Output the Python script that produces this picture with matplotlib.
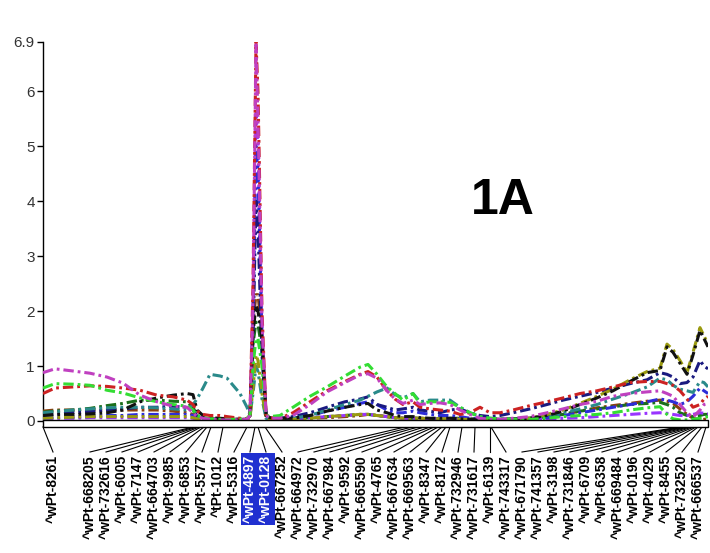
import matplotlib
matplotlib.use('Agg')
import matplotlib.pyplot as plt
from matplotlib.patches import Rectangle

plt.rcParams['font.family'] = ['Liberation Sans', 'DejaVu Sans']

# chromosome positions (cM) where LOD is sampled
pos = [0.0, 2.4, 6.0, 9.4, 12.8, 16.0, 19.4, 22.8, 26.0, 28.8,
       30.0, 30.8, 32.0, 33.4, 35.4, 36.8, 39.4, 40.8, 41.4, 42.0,
       42.6, 43.0, 43.8, 44.6, 45.4, 47.4, 50.0, 53.4, 56.8, 60.4,
       63.4, 65.0, 66.8, 68.8, 70.4, 72.0, 74.0, 75.4, 77.4, 79.4,
       81.4, 83.4, 85.4, 87.4, 89.4, 91.4, 94.0, 97.4, 100.8, 104.0,
       107.4, 110.8, 114.0, 117.4, 120.8, 123.4, 124.8, 126.0, 127.4, 128.8,
       130.0, 131.4, 132.2, 133.0]
chrom_len = 133.0

lod_violet = [0.88,0.95,0.91,0.87,0.80,0.69,0.47,0.35,0.27,0.25,
              0.15,0.08,0.05,0.03,0.02,0.02,0.02,0.03,0.10,2.20,
              6.85,5.50,1.80,0.10,0.05,0.05,0.10,0.30,0.53,0.70,
              0.84,0.86,0.78,0.55,0.40,0.32,0.38,0.30,0.32,0.33,
              0.30,0.20,0.12,0.05,0.03,0.03,0.05,0.08,0.15,0.22,
              0.30,0.36,0.45,0.50,0.53,0.55,0.50,0.45,0.30,0.15,
              0.07,0.20,0.30,0.32]
lod_green = [0.60,0.68,0.67,0.65,0.56,0.51,0.42,0.35,0.30,0.27,
             0.20,0.10,0.06,0.04,0.03,0.03,0.03,0.05,0.10,1.00,
             1.50,1.50,1.00,0.10,0.08,0.10,0.25,0.45,0.62,0.82,
             0.98,1.03,0.85,0.62,0.50,0.38,0.50,0.32,0.35,0.35,
             0.34,0.25,0.15,0.08,0.05,0.04,0.03,0.03,0.05,0.08,
             0.10,0.12,0.15,0.20,0.24,0.26,0.12,0.04,0.02,0.02,
             0.03,0.05,0.06,0.08]
lod_red = [0.50,0.60,0.62,0.64,0.63,0.60,0.56,0.47,0.44,0.38,
           0.30,0.18,0.12,0.10,0.10,0.08,0.05,0.04,0.10,2.50,
           6.90,6.00,2.00,0.12,0.06,0.05,0.15,0.35,0.55,0.72,
           0.85,0.90,0.80,0.55,0.40,0.30,0.35,0.25,0.22,0.20,
           0.18,0.12,0.15,0.25,0.15,0.15,0.20,0.28,0.35,0.42,
           0.50,0.55,0.62,0.70,0.72,0.72,0.68,0.65,0.55,0.40,
           0.25,0.30,0.40,0.45]
lod_teal = [0.15,0.17,0.20,0.22,0.24,0.25,0.25,0.24,0.22,0.20,
            0.30,0.40,0.60,0.85,0.82,0.78,0.50,0.25,0.10,0.50,
            1.00,0.90,0.40,0.05,0.03,0.03,0.05,0.10,0.20,0.30,
            0.38,0.45,0.53,0.60,0.48,0.42,0.50,0.35,0.38,0.38,
            0.38,0.25,0.15,0.08,0.05,0.04,0.04,0.05,0.10,0.15,
            0.22,0.30,0.40,0.50,0.62,0.78,0.75,0.65,0.58,0.55,
            0.52,0.72,0.70,0.62]
lod_black = [0.10,0.12,0.12,0.13,0.15,0.20,0.35,0.42,0.47,0.50,
             0.48,0.20,0.10,0.06,0.05,0.04,0.03,0.03,0.10,1.60,
             2.10,2.00,1.50,0.10,0.06,0.05,0.05,0.10,0.18,0.25,
             0.30,0.32,0.20,0.15,0.10,0.08,0.08,0.06,0.05,0.05,
             0.05,0.04,0.03,0.03,0.03,0.03,0.03,0.05,0.10,0.18,
             0.30,0.42,0.55,0.72,0.88,0.92,1.35,1.25,1.05,0.85,
             1.20,1.65,1.50,1.35]
lod_olive = [0.05,0.06,0.07,0.08,0.08,0.08,0.08,0.08,0.08,0.08,
             0.06,0.04,0.03,0.03,0.02,0.02,0.02,0.02,0.05,0.60,
             1.20,1.10,0.50,0.05,0.03,0.03,0.03,0.05,0.08,0.10,
             0.12,0.12,0.10,0.08,0.06,0.05,0.05,0.05,0.04,0.04,
             0.04,0.03,0.03,0.03,0.03,0.03,0.03,0.05,0.12,0.20,
             0.32,0.45,0.58,0.75,0.90,0.96,1.40,1.30,1.10,0.88,
             1.25,1.70,1.55,1.40]
lod_navy = [0.10,0.12,0.15,0.17,0.20,0.22,0.25,0.25,0.27,0.25,
            0.20,0.10,0.05,0.04,0.03,0.03,0.03,0.03,0.10,1.50,
            4.00,3.50,1.20,0.10,0.05,0.05,0.08,0.15,0.25,0.35,
            0.40,0.44,0.30,0.25,0.20,0.22,0.25,0.20,0.18,0.15,
            0.20,0.22,0.15,0.10,0.08,0.10,0.15,0.22,0.30,0.38,
            0.45,0.52,0.60,0.68,0.75,0.88,0.85,0.80,0.68,0.70,
            0.80,1.10,1.00,0.95]
lod_blue = [0.05,0.06,0.07,0.08,0.10,0.10,0.12,0.12,0.12,0.12,
            0.10,0.05,0.03,0.02,0.02,0.02,0.02,0.02,0.08,1.80,
            5.00,4.50,1.50,0.08,0.04,0.04,0.05,0.10,0.18,0.25,
            0.32,0.35,0.30,0.20,0.15,0.15,0.18,0.15,0.12,0.10,
            0.10,0.08,0.05,0.04,0.03,0.03,0.03,0.04,0.06,0.10,
            0.15,0.20,0.25,0.30,0.35,0.40,0.38,0.35,0.30,0.35,
            0.45,0.60,0.55,0.50]
lod_purple = [0.04,0.05,0.05,0.06,0.06,0.06,0.06,0.06,0.06,0.06,
              0.05,0.03,0.02,0.02,0.02,0.02,0.02,0.02,0.08,2.00,
              5.60,5.00,1.60,0.08,0.04,0.04,0.04,0.06,0.08,0.10,
              0.12,0.12,0.10,0.08,0.06,0.05,0.05,0.05,0.04,0.04,
              0.04,0.03,0.03,0.03,0.03,0.03,0.03,0.03,0.04,0.05,
              0.06,0.08,0.10,0.12,0.14,0.15,0.14,0.12,0.10,0.10,
              0.12,0.15,0.14,0.13]
lod_dkgreen = [0.16,0.18,0.20,0.23,0.28,0.32,0.38,0.38,0.36,0.35,
               0.25,0.10,0.06,0.04,0.03,0.03,0.03,0.03,0.10,1.40,
               1.80,1.75,1.30,0.10,0.05,0.04,0.04,0.06,0.08,0.10,
               0.12,0.12,0.10,0.08,0.06,0.05,0.05,0.05,0.04,0.04,
               0.05,0.05,0.04,0.03,0.03,0.03,0.04,0.05,0.08,0.12,
               0.18,0.22,0.26,0.30,0.32,0.34,0.30,0.25,0.15,0.10,
               0.08,0.10,0.12,0.12]
lod_brown = [0.18,0.20,0.20,0.20,0.20,0.20,0.20,0.20,0.18,0.15,
             0.12,0.08,0.05,0.04,0.03,0.03,0.03,0.03,0.10,1.80,
             2.30,2.30,1.60,0.10,0.05,0.04,0.04,0.05,0.06,0.08,
             0.10,0.12,0.10,0.08,0.06,0.05,0.05,0.05,0.04,0.04,
             0.04,0.03,0.03,0.03,0.03,0.03,0.04,0.05,0.08,0.12,
             0.18,0.24,0.28,0.32,0.36,0.38,0.36,0.32,0.22,0.12,
             0.05,0.02,0.03,0.04]

series = [lod_brown, lod_dkgreen, lod_purple, lod_blue, lod_navy, lod_teal,
          lod_olive, lod_black, lod_red, lod_green, lod_violet]
colors = ['#8b4010', '#1b6e1b', '#9933ff', '#2d2dd8', '#1a1a80', '#2a8a8a',
          '#9a9a10', '#111111', '#cc2222', '#33dd33', '#c040c0']

marker_names = ['wPt-8261', 'wPt-668205', 'wPt-732616', 'wPt-6005', 'wPt-7147',
                'wPt-664703', 'wPt-9985', 'wPt-6853', 'wPt-5577', 'tPt-1012',
                'wPt-5316', 'wPt-4897', 'wPt-0128', 'wPt-667252', 'wPt-664972',
                'wPt-732970', 'wPt-667984', 'wPt-9592', 'wPt-665590', 'wPt-4765',
                'wPt-667634', 'wPt-669563', 'wPt-8347', 'wPt-8172', 'wPt-732946',
                'wPt-731617', 'wPt-6139', 'wPt-743317', 'wPt-671790', 'wPt-741357',
                'wPt-3198', 'wPt-731846', 'wPt-6709', 'wPt-6358', 'wPt-669484',
                'wPt-0196', 'wPt-4029', 'wPt-8455', 'wPt-732520', 'wPt-666537']
marker_cM = [0.0, 30.0, 30.4, 30.8, 31.2, 31.6, 32.2, 32.8, 33.6, 36.0,
             40.8, 42.4, 43.0, 44.4, 72.4, 73.8, 75.0, 76.2, 77.4, 78.2,
             79.0, 79.8, 80.6, 81.4, 83.8, 86.4, 89.4, 89.6, 127.4, 127.8,
             128.2, 128.6, 129.0, 129.4, 129.8, 130.2, 130.6, 131.0, 131.8, 132.6]
highlighted = ['wPt-4897', 'wPt-0128']

yticks = [0, 1, 2, 3, 4, 5, 6, 6.9]
ytick_labels = ['0', '1', '2', '3', '4', '5', '6', '6.9']

W, H = 710, 553
fig = plt.figure(figsize=(W / 100, H / 100), dpi=100)
ax = fig.add_axes([43 / W, (H - 421) / H, 665 / W, 379 / H])
ax.set_xlim(0, chrom_len)
ax.set_ylim(0, 6.9)
for s in ['top', 'right', 'bottom']:
    ax.spines[s].set_visible(False)
ax.spines['left'].set_linewidth(1.0)
ax.spines['left'].set_bounds(0, 6.9)
ax.set_xticks([])
ax.set_yticks(yticks)
ax.set_yticklabels(ytick_labels, fontsize=11, color='#333333')
ax.tick_params(axis='y', length=4, width=1, pad=2)

for vals, c in zip(series, colors):
    ax.plot(pos, vals, color=c, lw=2.2, dashes=(3.4, 1.3, 0.9, 1.3), zorder=3)

tr = ax.get_xaxis_transform()
axh = 379.0
bar_top = 1 / axh
bar_bot = -6 / axh
ax.add_patch(Rectangle((0, bar_bot), chrom_len, bar_top - bar_bot, transform=tr,
                       fc='white', ec='black', lw=1.0, clip_on=False, zorder=6))

# label layout positions (evenly spread along the chromosome)
px_per_cM = 665 / chrom_len
label_cM = [10 / px_per_cM] + [(47 + 16.0 * k) / px_per_cM for k in range(len(marker_names) - 1)]

y_line_end = -31 / axh
y_text_top = -34 / axh
for name, m, lx in zip(marker_names, marker_cM, label_cM):
    ax.plot([m, lx], [bar_bot, y_line_end], transform=tr, color='black', lw=0.8,
            clip_on=False, zorder=5)
    kw = {}
    col = 'black'
    if name in highlighted:
        kw['bbox'] = dict(boxstyle='square,pad=0.12', fc='#2030d0', ec='none')
        col = 'white'
    ax.text(lx, y_text_top, '^' + name, transform=tr, rotation=90, ha='center',
            va='top', fontsize=10, fontweight='bold', color=col, **kw)

fig.text(503 / W, 1 - 201 / H, '1A', fontsize=36, fontweight='bold',
         ha='center', va='center')

fig.savefig('out.png', dpi=100)
